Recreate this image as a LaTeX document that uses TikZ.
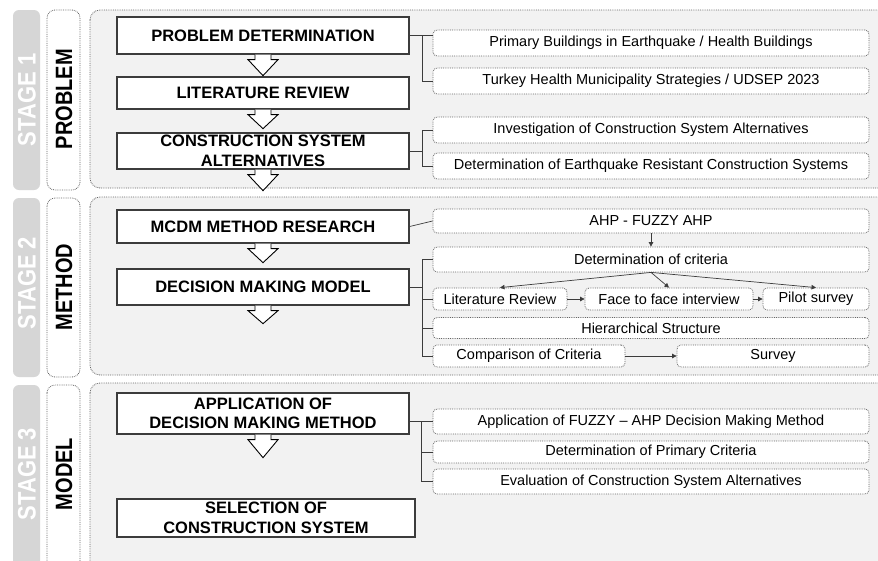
\documentclass[tikz,border=0pt]{standalone}
\usepackage{fontspec}
\usepackage{graphicx}
\setmainfont{Liberation Sans}
\usetikzlibrary{arrows.meta,calc}
\definecolor{stagegray}{HTML}{D6D6D6}
\definecolor{panelgray}{HTML}{F2F2F2}
\definecolor{dotgray}{HTML}{666666}
\definecolor{linegray}{HTML}{3C3C3C}
\tikzset{
  stagecol/.style={fill=stagegray, draw=none, rounded corners=6pt},
  labelcol/.style={fill=white, draw=dotgray, densely dotted, line width=0.8pt, rounded corners=8pt},
  panel/.style={fill=panelgray, draw=dotgray, densely dotted, line width=0.8pt, rounded corners=10pt},
  stagetext/.style={rotate=90, text=white, font=\bfseries\fontsize{22}{26}\selectfont},
  labeltext/.style={rotate=90, text=black, font=\bfseries\fontsize{20}{24}\selectfont},
  mainbox/.style={draw=linegray, line width=1.3pt, fill=white, align=center, inner sep=0pt,
    font=\bfseries\fontsize{16.5}{19.5}\selectfont},
  rbox/.style={draw=dotgray, densely dotted, line width=0.8pt, fill=white, rounded corners=4pt,
    align=center, inner sep=0pt, font=\fontsize{14.5}{17}\selectfont},
  conn/.style={draw=linegray, line width=0.7pt},
  sarrow/.style={conn, -{Triangle[length=4.5pt,width=4.5pt]}},
  blockar/.style={draw=black, line width=0.9pt, fill=white, line join=miter},
}
\newcommand\blockarrow[2]{%
  \filldraw[blockar] ([xshift=-8pt]#1.south) -- ++(0,5) -- ++(-7,0) -- ++(15,{#2-5}) -- ++(15,{5-#2}) -- ++(-7,0) -- ++(0,-5);}
\newcommand\tallword[2]{\scalebox{1}[#1]{#2}}
\begin{document}
\begin{tikzpicture}[x=1pt,y=-1pt]
\clip (0,0) rectangle (878,560);
\fill[white] (0,0) rectangle (878,560);

% stage columns
\fill[stagecol] (13,10) rectangle (40,190);
\fill[stagecol] (13,198) rectangle (40,377);
\fill[stagecol] (13,385) rectangle (40,580);
\node[stagetext] (s1) at (27,100) {\tallword{1.15}{STAGE 1}};
\node[stagetext] (s2) at (27,283) {\tallword{1.15}{STAGE 2}};
\node[stagetext] (s3) at (27,474) {\tallword{1.15}{STAGE 3}};

% label columns
\draw[labelcol] (47,10) rectangle (80,190);
\draw[labelcol] (47,198) rectangle (80,377);
\draw[labelcol] (47,385) rectangle (80,580);
\node[labeltext] (l1) at (64,99) {\tallword{1.18}{PROBLEM}};
\node[labeltext] (l2) at (64,287) {\tallword{1.18}{METHOD}};
\node[labeltext] (l3) at (64,474) {\tallword{1.18}{MODEL}};

% panels
\draw[panel] (90,10) rectangle (895,188);
\draw[panel] (90,197) rectangle (895,375);
\draw[panel] (90,383) rectangle (895,580);

% main boxes
\node[mainbox, minimum width=292pt, minimum height=37pt] (pd) at (263,35.5) {PROBLEM DETERMINATION};
\node[mainbox, minimum width=292pt, minimum height=32pt] (lr) at (263,93) {LITERATURE REVIEW};
\node[mainbox, minimum width=292pt, minimum height=36pt] (cs) at (263,151) {CONSTRUCTION SYSTEM\\ALTERNATIVES};
\node[mainbox, minimum width=292pt, minimum height=33pt] (mc) at (263,226.5) {MCDM METHOD RESEARCH};
\node[mainbox, minimum width=292pt, minimum height=36pt] (dm) at (263,287) {DECISION MAKING MODEL};
\node[mainbox, minimum width=292pt, minimum height=41pt] (ap) at (263,413.5) {APPLICATION OF\\DECISION MAKING METHOD};
\node[mainbox, minimum width=298pt, minimum height=38pt] (sel) at (266,518) {SELECTION OF\\CONSTRUCTION SYSTEM};

% block arrows
\blockarrow{pd}{21}
\blockarrow{lr}{19}
\blockarrow{cs}{21}
\blockarrow{mc}{19}
\blockarrow{dm}{18}
\blockarrow{ap}{23}

% right boxes stage 1
\node[rbox, minimum width=436pt, minimum height=26pt] (b1) at (651,43) {Primary Buildings in Earthquake / Health Buildings};
\node[rbox, minimum width=436pt, minimum height=26pt] (b2) at (651,81) {Turkey Health Municipality Strategies / UDSEP 2023};
\node[rbox, minimum width=436pt, minimum height=26pt] (b3) at (651,130) {Investigation of Construction System Alternatives};
\node[rbox, minimum width=436pt, minimum height=26pt] (b4) at (651,166) {Determination of Earthquake Resistant Construction Systems};

% right boxes stage 2
\node[rbox, minimum width=436pt, minimum height=24pt] (ahp) at (651,221) {AHP - FUZZY AHP};
\node[rbox, minimum width=436pt, minimum height=25pt] (dc) at (651,259.5) {Determination of criteria};
\node[rbox, minimum width=134pt, minimum height=22pt] (litr) at (500,299) {Literature Review};
\node[rbox, minimum width=168pt, minimum height=22pt] (ftf) at (669,299) {Face to face interview};
\node[rbox, minimum width=106pt, minimum height=22pt] (pil) at (816,299) {Pilot survey};
\node[rbox, minimum width=436pt, minimum height=21pt] (hs) at (651,328) {Hierarchical Structure};
\node[rbox, minimum width=192pt, minimum height=22pt] (cc) at (529,356) {Comparison of Criteria};
\node[rbox, minimum width=192pt, minimum height=22pt] (sv) at (773,356) {Survey};

% right boxes stage 3
\node[rbox, minimum width=436pt, minimum height=25pt] (a1) at (651,421.5) {Application of FUZZY – AHP Decision Making Method};
\node[rbox, minimum width=436pt, minimum height=22pt] (a2) at (651,452) {Determination of Primary Criteria};
\node[rbox, minimum width=436pt, minimum height=25pt] (a3) at (651,481.5) {Evaluation of Construction System Alternatives};

% connectors stage 1
\draw[conn] (pd.east) -- (b1.west |- pd.east);
\draw[conn] (pd.east) -- ++(13,0) |- (b2.west);
\draw[conn] (cs.east) -- ++(13,0) coordinate (j2);
\draw[conn] (j2) |- (b3.west);
\draw[conn] (j2) |- (b4.west);

% connectors stage 2
\draw[conn] (mc.east) -- (ahp.west);
\draw[conn] (dm.east) -- ++(13,0) coordinate (j3);
\draw[conn] (j3) |- (dc.west);
\draw[conn] (j3) |- (litr.west);
\draw[conn] (j3) |- (hs.west);
\draw[conn] (j3) |- (cc.west);
\draw[sarrow] (ahp.south) -- (dc.north);
\draw[sarrow] (dc.south) -- (litr.north);
\draw[sarrow] (dc.south) -- (ftf.north);
\draw[sarrow] (dc.south) -- (pil.north);
\draw[sarrow] (litr.east) -- (ftf.west);
\draw[sarrow] (ftf.east) -- (pil.west);
\draw[sarrow] (cc.east) -- (sv.west);

% connectors stage 3
\draw[conn] (a1.west -| ap.east) -- (a1.west);
\draw[conn] ([xshift=-11pt]a1.west) |- (a2.west);
\draw[conn] ([xshift=-11pt]a1.west) |- (a3.west);
\end{tikzpicture}
\end{document}
